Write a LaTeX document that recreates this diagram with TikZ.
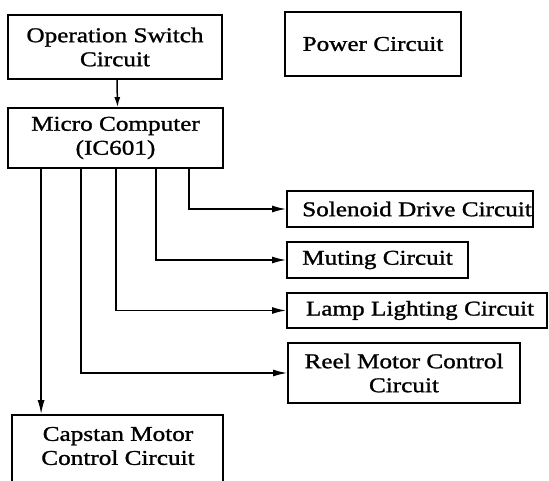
\documentclass[tikz,border=0pt]{standalone}
\usepackage{fontspec}
\setmainfont{Liberation Serif}[FakeStretch=1.2,FakeBold=1.2]
\usetikzlibrary{arrows.meta}
\begin{document}
\begin{tikzpicture}[x=1pt,y=-1pt,
  box/.style={draw,line width=1.8pt,inner sep=0pt,align=center,
    font=\fontsize{21}{24}\selectfont},
  txt/.style={inner sep=0pt,align=center,font=\fontsize{21}{24}\selectfont},
  conn/.style={line width=1.5pt},
  arr/.style={conn,-{Latex[length=14pt,width=7pt]}},
  sarr/.style={conn,-{Latex[length=10pt,width=6pt]}}]
\useasboundingbox (0,0) rectangle (549,481);
\clip (0,0) rectangle (549,481);

\node[box,minimum width=214pt,minimum height=64pt] (op) at (115,47) {Operation Switch\\Circuit};
\node[box,minimum width=215pt,minimum height=60pt] (micro) at (115.5,138) {Micro Computer\\(IC601)};
\node[box,minimum width=176pt,minimum height=64pt] (power) at (373,44) {Power Circuit};
\node[box,minimum width=246pt,minimum height=36pt] (sol) at (410,209) {\hspace{14pt}Solenoid Drive Circuit};
\node[box,minimum width=181pt,minimum height=36pt] (mut) at (377.5,260) {Muting Circuit};
\node[box,minimum width=260pt,minimum height=35pt] (lamp) at (417,310.5) {\hspace{6pt}Lamp Lighting Circuit};
\node[box,minimum width=232pt,minimum height=60pt] (reel) at (404,373) {Reel Motor Control\\Circuit};
\node[box,minimum width=211pt,minimum height=120pt] (cap) at (117.5,475) {};
\node[txt] (captext) at (118,446) {Capstan Motor\\Control Circuit};

\coordinate (t1) at ([xshift=34pt]micro.south west);
\coordinate (t2) at ([xshift=74pt]micro.south west);
\coordinate (t3) at ([xshift=109pt]micro.south west);
\coordinate (t4) at ([xshift=149pt]micro.south west);
\coordinate (t5) at ([xshift=182pt]micro.south west);

\draw[sarr] ([xshift=2pt]op.south) -- ([xshift=2pt]micro.north);
\draw[arr] (t5) |- (sol.west);
\draw[arr] (t4) |- (mut.west);
\draw[arr] (t3) |- (lamp.west);
\draw[arr] (t2) |- (reel.west);
\draw[arr] (t1) -- (t1 |- cap.north);
\end{tikzpicture}
\end{document}
